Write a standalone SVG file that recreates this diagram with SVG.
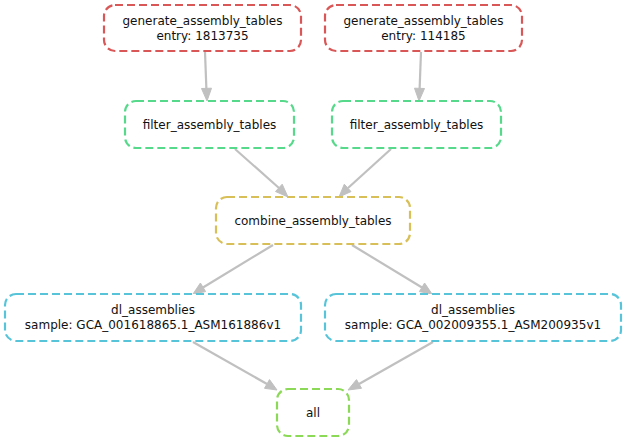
<svg xmlns="http://www.w3.org/2000/svg" width="627" height="443" viewBox="0 0 627 443">
<defs>
<style>
.n rect{fill:#fff;stroke-width:2.2;stroke-dasharray:8,4;}
.n text{font-family:"DejaVu Sans",sans-serif;font-size:12px;fill:#111;text-anchor:middle;}
.e line{stroke:#c0c0c0;stroke-width:2.2;}
.e polygon{fill:#c0c0c0;stroke:#c0c0c0;stroke-width:1;}
</style>
</defs>
<rect width="627" height="443" fill="#fff"/>
<g class="e" id="edges">
<line x1="205" y1="52" x2="206.4" y2="89"/><polygon points="201.5,88.5 211.5,88.2 207,101"/>
<line x1="421" y1="52" x2="419.6" y2="89"/><polygon points="414.5,88.2 424.5,88.5 419,101"/>
<line x1="235" y1="149" x2="279" y2="188"/><polygon points="275.5,191.5 282.2,184.2 288,197"/>
<line x1="391" y1="149" x2="348" y2="188"/><polygon points="344.3,184.2 351,191.6 339,197"/>
<line x1="273" y1="245" x2="203" y2="287.5"/><polygon points="200.4,283 205.6,291.6 193,294"/>
<line x1="352" y1="245" x2="422" y2="287.5"/><polygon points="419.4,291.6 424.6,283 432,294"/>
<line x1="193" y1="342" x2="267" y2="384"/><polygon points="264.5,388.3 269.5,379.6 277,390"/>
<line x1="433" y1="342" x2="359" y2="384"/><polygon points="356.5,379.6 361.5,388.3 348,390"/>
</g>
<g class="n" id="gen1"><rect x="104" y="5" width="197" height="46" rx="11" stroke="#d95757"/><text x="202.5" y="25">generate_assembly_tables</text><text x="202.5" y="40">entry: 1813735</text></g>
<g class="n" id="gen2"><rect x="325" y="5" width="197" height="46" rx="11" stroke="#d95757"/><text x="423.5" y="25">generate_assembly_tables</text><text x="423.5" y="40">entry: 114185</text></g>
<g class="n" id="filter1"><rect x="125" y="101" width="169" height="47" rx="11" stroke="#57d98b"/><text x="209.5" y="129">filter_assembly_tables</text></g>
<g class="n" id="filter2"><rect x="332" y="101" width="169" height="47" rx="11" stroke="#57d98b"/><text x="416.5" y="129">filter_assembly_tables</text></g>
<g class="n" id="combine"><rect x="216" y="197" width="194" height="47" rx="11" stroke="#d9bf57"/><text x="313" y="225">combine_assembly_tables</text></g>
<g class="n" id="dl1"><rect x="5" y="294" width="296" height="47" rx="11" stroke="#57c4d9"/><text x="153" y="314">dl_assemblies</text><text x="153" y="329">sample: GCA_001618865.1_ASM161886v1</text></g>
<g class="n" id="dl2"><rect x="325" y="294" width="296" height="47" rx="11" stroke="#57c4d9"/><text x="473" y="314">dl_assemblies</text><text x="473" y="329">sample: GCA_002009355.1_ASM200935v1</text></g>
<g class="n" id="all"><rect x="277" y="389" width="72" height="47" rx="11" stroke="#8bd957"/><text x="313" y="417">all</text></g>
</svg>
